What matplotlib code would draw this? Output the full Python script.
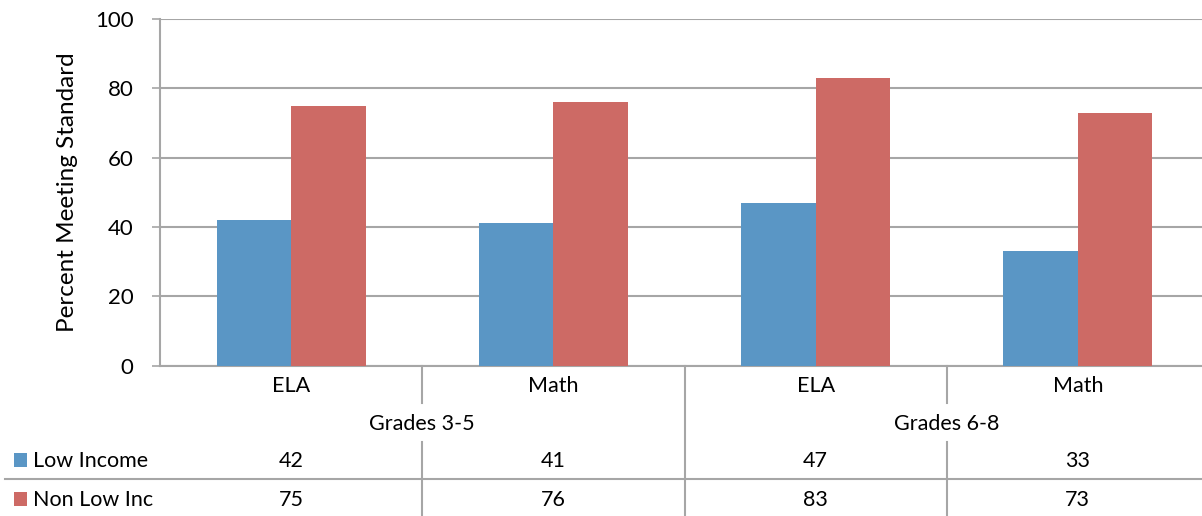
import matplotlib
matplotlib.use("Agg")
import matplotlib.pyplot as plt
from matplotlib.transforms import blended_transform_factory
from matplotlib.patches import Rectangle
from matplotlib.lines import Line2D

plt.rcParams['font.family'] = ['Lato', 'DejaVu Sans']

categories = ["ELA", "Math", "ELA", "Math"]
groups = ["Grades 3-5", "Grades 6-8"]
series_names = ["Low Income", "Non Low Inc"]
low_income = [42, 41, 47, 33]
non_low_inc = [75, 76, 83, 73]
yticks = [0, 20, 40, 60, 80, 100]

BLUE = "#5A96C5"
RED = "#CD6A65"
GRID = "#A6A6A6"
W, H = 1202, 516

fig = plt.figure(figsize=(W / 100, H / 100), dpi=100)
ax_left, ax_right, ax_top, ax_bot = 160, 1209, 19, 365.5
ax = fig.add_axes([ax_left / W, 1 - ax_bot / H, (ax_right - ax_left) / W, (ax_bot - ax_top) / H])

x = list(range(len(categories)))
bw = 0.284
ax.bar([i - bw / 2 for i in x], low_income, width=bw, color=BLUE, zorder=3)
ax.bar([i + bw / 2 for i in x], non_low_inc, width=bw, color=RED, zorder=3)

ax.set_xlim(-0.5, len(categories) - 0.5)
ax.set_ylim(0, 100)
ax.set_yticks(yticks)
ax.set_yticklabels([str(v) for v in yticks], fontsize=16)
ax.set_xticks([])
ax.yaxis.grid(True, color=GRID, linewidth=1.5, zorder=0)
ax.tick_params(axis='y', length=6, width=1.2, color=GRID, pad=13)
for s in ["top", "right"]:
    ax.spines[s].set_visible(False)
ax.spines["left"].set_color(GRID)
ax.spines["left"].set_linewidth(1.5)
ax.spines["bottom"].set_color(GRID)
ax.spines["bottom"].set_linewidth(1.5)
ax.set_ylabel("Percent Meeting Standard", fontsize=17.5, labelpad=12)

# data table
tr = blended_transform_factory(ax.transData, fig.transFigure)
def fy(px):
    return 1 - px / H

fs = 15.5
for i, c in enumerate(categories):
    ax.text(i, fy(392), c, transform=tr, ha='center', va='baseline', fontsize=fs)
for g, name in enumerate(groups):
    ax.text(2 * g + 0.5, fy(430), name, transform=tr, ha='center', va='baseline', fontsize=fs)
for i, v in enumerate(low_income):
    ax.text(i, fy(467), str(v), transform=tr, ha='center', va='baseline', fontsize=fs)
for i, v in enumerate(non_low_inc):
    ax.text(i, fy(505.5), str(v), transform=tr, ha='center', va='baseline', fontsize=fs)

# separators
for xs in [0.5, 2.5]:
    ax.add_line(Line2D([xs, xs], [fy(366), fy(403)], transform=tr, color=GRID, lw=1.5, clip_on=False))
    ax.add_line(Line2D([xs, xs], [fy(442), fy(516)], transform=tr, color=GRID, lw=1.5, clip_on=False))
ax.add_line(Line2D([1.5, 1.5], [fy(366), fy(516)], transform=tr, color=GRID, lw=1.5, clip_on=False))
fig.add_artist(Line2D([5 / W, 1], [fy(479.3), fy(479.3)], transform=fig.transFigure, color=GRID, lw=1.5))

# legend keys in table
for name, col, ytop, base in [(series_names[0], BLUE, 453, 467), (series_names[1], RED, 492, 505.5)]:
    fig.add_artist(Rectangle((14 / W, fy(ytop + 13.5)), 13 / W, 13.5 / H, transform=fig.transFigure,
                             facecolor=col, edgecolor='none'))
    fig.text(33 / W, fy(base), name, ha='left', va='baseline', fontsize=fs)

fig.savefig("out.png", dpi=100)
